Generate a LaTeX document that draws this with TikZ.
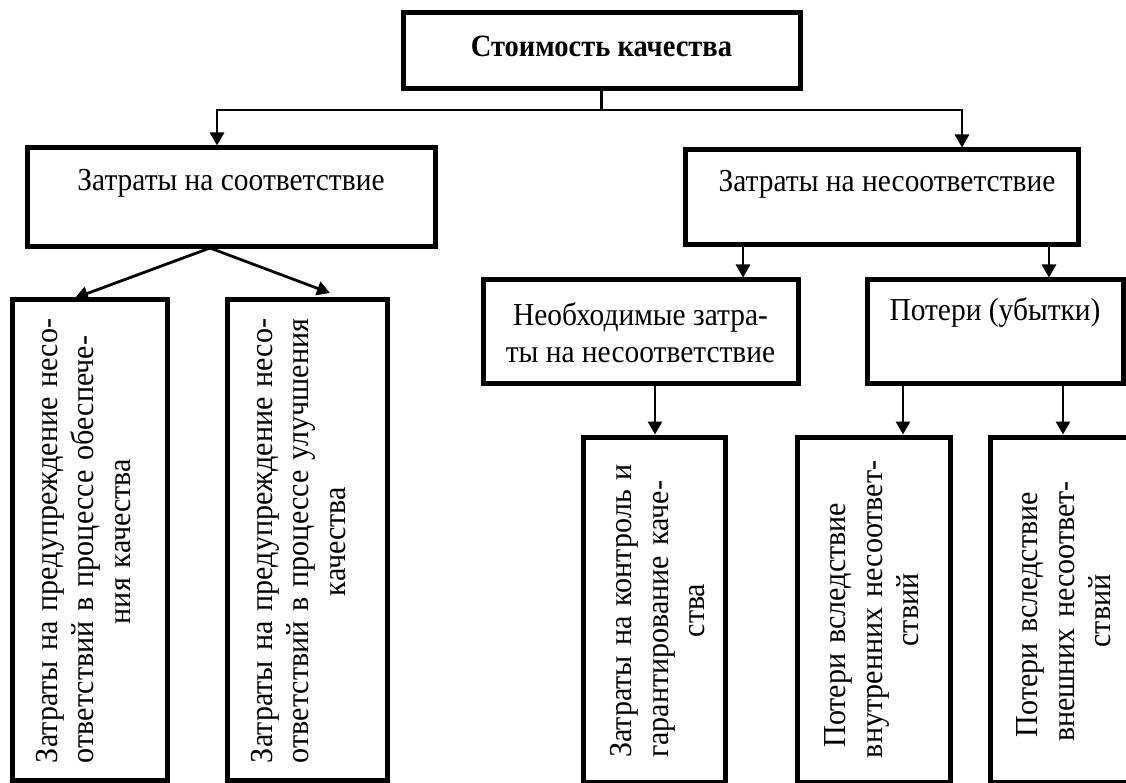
\documentclass[tikz,border=0pt]{standalone}
\usepackage{fontspec}
\setmainfont{Liberation Serif}
\usetikzlibrary{arrows.meta}
\newcommand\jline[2]{\leavevmode\hbox to #1{#2}}
\tikzset{
  boxst/.style={draw, line width=5pt, inner sep=0pt},
  lbl/.style={font=\fontsize{32}{37}\selectfont, inner sep=0pt, xscale=0.92},
  rot/.style={rotate=90, xscale=0.94, font=\fontsize{32}{36.5}\selectfont, inner sep=0pt, align=center},
  conn/.style={line width=2.8pt},
  arr/.style={conn, -{Triangle[length=13pt,width=14pt]}},
}
\begin{document}
\begin{tikzpicture}[x=1pt,y=-1pt]
\useasboundingbox (0,0) rectangle (1126,783);
% boxes
\node[boxst, minimum width=397pt, minimum height=76pt] (top) at (601.5,51) {};
\node[lbl, anchor=base, font=\bfseries\fontsize{31}{37}\selectfont] (toptxt) at (601.5,57) {Стоимость качества};
\node[boxst, minimum width=408pt, minimum height=99pt] (conf) at (231,197.5) {};
\node[lbl, anchor=base] (conftxt) at (231,191) {Затраты на соответствие};
\node[boxst, minimum width=393pt, minimum height=95pt] (nonconf) at (881.5,197.5) {};
\node[lbl, anchor=base] (nonconftxt) at (887,192) {Затраты на несоответствие};
\node[boxst, minimum width=315pt, minimum height=103pt] (need) at (640.5,331.5) {};
\node[lbl, align=center] (needtxt) at (640.5,333) {Необходимые затра-\\ты на несоответствие};
\node[boxst, minimum width=256pt, minimum height=103pt] (loss) at (995,331.5) {};
\node[lbl, anchor=base] (losstxt) at (995,320) {Потери (убытки)};
\node[boxst, minimum width=155pt, minimum height=480pt] (b1) at (89.5,540) {};
\node[boxst, minimum width=160pt, minimum height=480pt] (b2) at (307,540) {};
\node[boxst, minimum width=142pt, minimum height=345pt] (b3) at (654,609.5) {};
\node[boxst, minimum width=153pt, minimum height=345pt] (b4) at (873.5,609.5) {};
\node[boxst, minimum width=150pt, minimum height=345pt] (b5) at (1065,609.5) {};
% rotated texts (local lengths = page length / 0.94)
\node[rot, text width=471.3pt] (t1) at (83.5,541.5) {\jline{471.3pt}{Затраты на предупреждение несо-}\\\jline{471.3pt}{ответствий в процессе обеспече-}\\ния качества};
\node[rot, text width=471.3pt] (t2) at (298.5,541.5) {\jline{471.3pt}{Затраты на предупреждение несо-}\\\jline{471.3pt}{ответствий в процессе улучшения}\\качества};
\node[rot, text width=313.8pt] (t3) at (658,610.5) {\jline{313.8pt}{Затраты на контроль и}\\\jline{313.8pt}{гарантирование каче-}\\ства};
\node[rot, text width=314.9pt] (t4) at (872,610) {\jline{292.6pt}{Потери вследствие}\hfill\\\jline{314.9pt}{внутренних несоответ-}\\ствий};
\node[rot, text width=278.7pt] (t5) at (1064,611) {\jline{268.1pt}{Потери вследствие}\hfill\\\jline{278.7pt}{внешних несоответ-}\\ствий};
% connectors
\coordinate (j0) at (601.5,110);
\coordinate (jl) at (217,110);
\coordinate (jr) at (962,110);
\draw[conn] (top.south) -- (j0);
\draw[arr, line join=miter] (j0) -- (jl) -- (jl |- conf.north);
\draw[arr, line join=miter] (j0) -- (jr) -- (jr |- nonconf.north);
\coordinate (cs) at (210,248);
\coordinate (tip1) at (75,298);
\coordinate (tip2) at (330,293);
\draw[arr] (cs) -- (tip1);
\draw[arr] (cs) -- (tip2);
\coordinate (xa) at (743,0);
\coordinate (xb) at (1049,0);
\coordinate (xc) at (655,0);
\coordinate (xd) at (903,0);
\coordinate (xe) at (1063,0);
\draw[arr] (nonconf.south -| xa) -- (need.north -| xa);
\draw[arr] (nonconf.south -| xb) -- (loss.north -| xb);
\draw[arr] (need.south -| xc) -- (b3.north -| xc);
\draw[arr] (loss.south -| xd) -- (b4.north -| xd);
\draw[arr] (loss.south -| xe) -- (b5.north -| xe);
\end{tikzpicture}
\end{document}
